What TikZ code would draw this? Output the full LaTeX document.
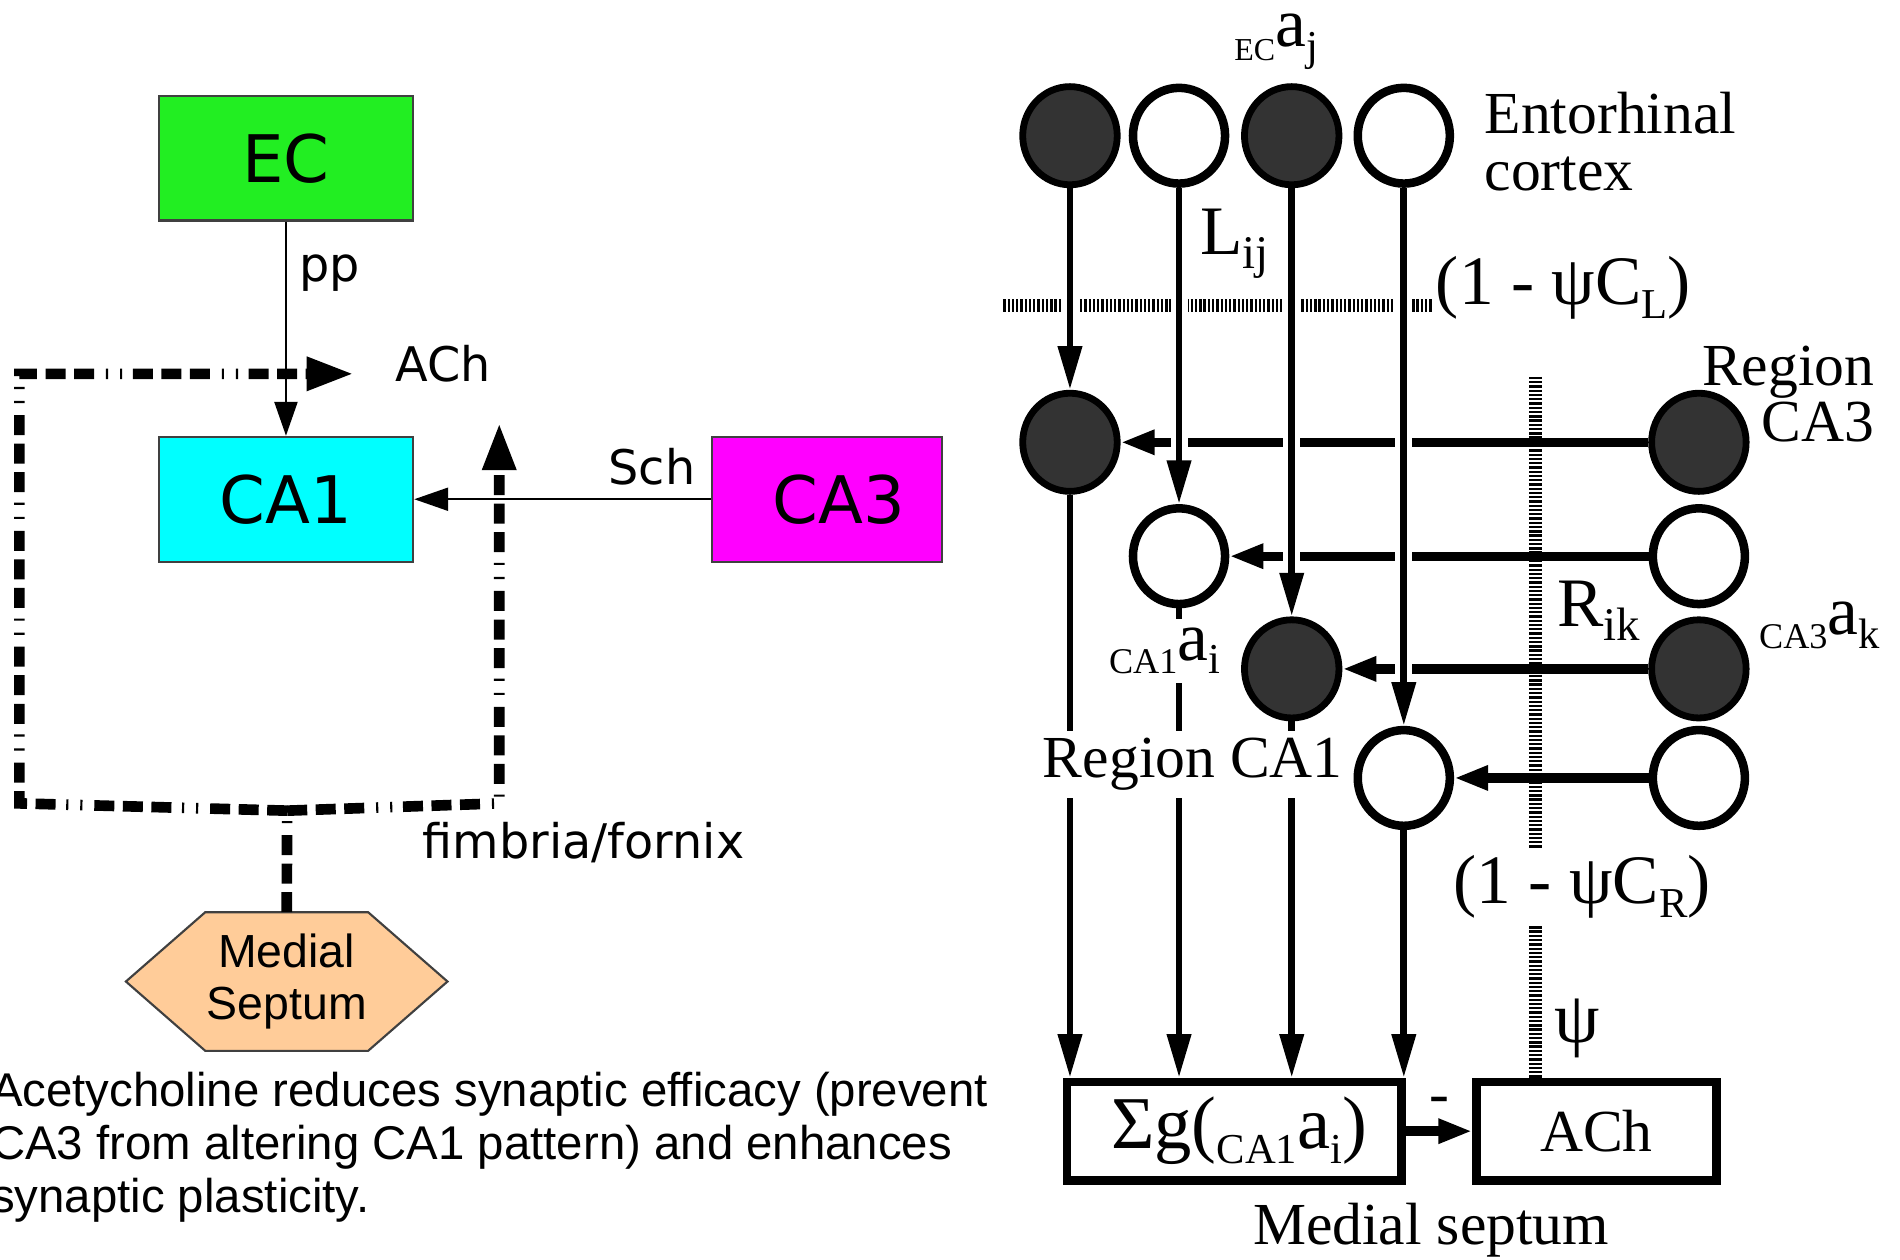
\documentclass[tikz,border=0pt]{standalone}
\usepackage{fontspec}
\setmainfont{Liberation Serif}
\newfontfamily\dvsans{DejaVu Sans}
\newfontfamily\lsans{Liberation Sans}
\usetikzlibrary{shapes.geometric,calc,arrows.meta,positioning,backgrounds}

\definecolor{ecgreen}{RGB}{34,238,34}
\definecolor{ca1cyan}{RGB}{0,255,255}
\definecolor{ca3magenta}{RGB}{255,0,255}
\definecolor{septpeach}{RGB}{255,204,153}
\newcommand{\lowtxt}[2][8pt]{\raisebox{-0.2em}{\fontsize{#1}{#1}\selectfont #2}}

\begin{document}
\begin{tikzpicture}[x=1cm,y=-1cm,
    area/.style={draw=black!75, line width=0.5pt, minimum width=2.1cm, minimum height=1.03cm, inner sep=0pt, font=\dvsans\fontsize{15.4pt}{18pt}\selectfont},
    lbl/.style={inner sep=0pt, font=\dvsans\fontsize{11.2pt}{13pt}\selectfont},
    plain arrow/.style={line width=0.5pt, -{Triangle[length=2.8mm,width=1.9mm]}},
    fibre/.style={line width=2.5pt, dash pattern={on 4.7pt off 2pt on 4.7pt off 2pt on 4.7pt off 2.8pt on 0.5pt off 2.8pt on 0.5pt off 2.5pt}},
    fibre tip/.style={-{Triangle[length=3.9mm,width=2.6mm]}},
    fired/.style={ellipse, draw, line width=1.6pt, fill=black!80, minimum width=0.78cm, minimum height=0.81cm, inner sep=0pt},
    silent/.style={ellipse, draw, line width=2pt, fill=white, minimum width=0.76cm, minimum height=0.79cm, inner sep=0pt},
    axon/.style={line width=1.6pt, -{Triangle[length=3.6mm,width=1.9mm]}},
    halo/.style={white, line width=4pt},
    synapse/.style={line width=2.2pt, -{Triangle[length=2.8mm,width=1.9mm]}},
    gate/.style={line width=3pt, dash pattern={on 0.55pt off 0.45pt}},
    word/.style={inner sep=0pt, font=\fontsize{14pt}{13.3pt}\selectfont},
    sym/.style={inner sep=0pt, font=\fontsize{16.3pt}{18pt}\selectfont},
    septbox/.style={draw, line width=2pt, minimum height=0.81cm, inner sep=0pt}
  ]
  \useasboundingbox (0,0) rectangle (15.68,10.39);

  % --- left: block scheme ---
  \node[area, fill=ecgreen] (ec) at (2.36,1.305) {EC};
  \node[area, fill=ca1cyan] (ca1) at (2.36,4.12) {CA1};
  \node[area, fill=ca3magenta, minimum width=1.9cm] (ca3) at (6.825,4.12) {\hspace*{0.2cm}CA3};
  \node[lbl] (pp) at (2.72,2.25) {pp};
  \node[lbl] (achin) at (3.66,3.00) {ACh};
  \node[lbl] (sch) at (5.38,3.855) {Sch};
  \node[lbl] (fim) at (4.815,6.95) {fimbria/fornix};
  \node[lbl, font=\lsans\fontsize{10.9pt}{12.3pt}\selectfont, align=center, minimum width=2.64cm, minimum height=1.13cm] (ms) at (2.366,8.10) {Medial\\Septum};
  \node[lbl, font=\lsans\fontsize{11.12pt}{12.5pt}\selectfont, align=left, anchor=north west] (note) at (-0.08,8.838) {Acetycholine reduces synaptic efficacy (prevent\\CA3 from altering CA1 pattern) and enhances\\synaptic plasticity.};

  \begin{scope}[on background layer]
    \draw[draw=black!75, line width=0.5pt, fill=septpeach] (ms.west) -- ([xshift=0.655cm]ms.north west) -- ([xshift=-0.655cm]ms.north east) -- (ms.east) -- ([xshift=-0.655cm]ms.south east) -- ([xshift=0.655cm]ms.south west) -- cycle;
  \end{scope}

  \draw[plain arrow] (ec) -- (ca1);
  \draw[plain arrow] (ca3) -- (ca1);

  % cholinergic fibres
  \coordinate (fj) at (2.37,6.69);
  \coordinate (fl) at (0.16,6.63);
  \coordinate (fr) at (4.12,6.63);
  \coordinate (tipL) at (2.92,3.085);
  \coordinate (tipR) at (4.12,3.49);
  \draw[fibre] (ms.north) -- (fj);
  \draw[fibre, fibre tip] (fj) -- (fl) -- (fl |- tipL) -- (tipL);
  \draw[fibre, fibre tip] (fj) -- (fr) -- (tipR);

  % --- right: network ---
  \node[fired] (e1) at (8.83,1.12) {};
  \node[silent] (e2) at (9.73,1.12) {};
  \node[fired] (e3) at (10.66,1.12) {};
  \node[silent] (e4) at (11.585,1.12) {};
  \node[fired] (c1) at (8.83,3.65) {};
  \node[silent] (c2) at (9.73,4.59) {};
  \node[fired] (c3) at (10.66,5.52) {};
  \node[silent] (c4) at (11.585,6.42) {};
  \node[fired] (r1) at (14.02,3.65) {};
  \node[silent] (r2) at (14.02,4.59) {};
  \node[fired] (r3) at (14.02,5.52) {};
  \node[silent] (r4) at (14.02,6.42) {};

  \node[septbox, minimum width=2.76cm, font=\fontsize{17.5pt}{20pt}\selectfont] (sg) at (10.185,9.335) {\hspace*{0.08cm}Σg(\lowtxt[10pt]{CA1}a\lowtxt[10pt]{i})};
  \node[septbox, minimum width=1.98cm, font=\fontsize{14pt}{16pt}\selectfont] (ach) at (13.175,9.335) {ACh};

  \node[sym, anchor=base west] (ecaj) at (10.18,0.385) {\lowtxt[7.5pt]{EC}a\lowtxt[10pt]{j}};
  \node[word, align=left, anchor=north west] (ent) at (12.245,0.753) {Entorhinal\\cortex};
  \node[sym, anchor=base west] (lij) at (9.90,2.104) {L\lowtxt[11pt]{ij}};
  \node[sym, anchor=base west] (cl) at (11.843,2.517) {(1 - ψC\lowtxt[10pt]{L})};
  \node[word, align=right, anchor=north east] (rca3) at (15.475,2.845) {Region\\CA3};
  \node[sym, anchor=base west] (rik) at (12.847,5.172) {R\lowtxt[11pt]{ik}};
  \node[sym, anchor=base west] (cak) at (14.51,5.24) {\lowtxt[8.5pt]{CA3}a\lowtxt[10pt]{k}};
  \node[sym, anchor=base west, fill=white, inner sep=0.7mm] (cai) at (9.075,5.447) {\lowtxt[8.5pt]{CA1}a\lowtxt[10pt]{i}};
  \node[word, anchor=base west, fill=white, inner sep=0.6mm] (rca1) at (8.54,6.42) {Region CA1};
  \node[sym, anchor=base west, fill=white, inner sep=0.6mm] (cr) at (11.93,7.455) {(1 - ψC\lowtxt[10pt]{R})};
  \node[word, font=\fontsize{17pt}{18pt}\selectfont, anchor=base west] (psi) at (12.825,8.60) {ψ};
  \node[word] (minus) at (11.88,9.12) {-};
  \node[word] (msr) at (11.81,10.15) {Medial septum};

  \begin{scope}[on background layer]
    \foreach \n in {1,...,4}
      \draw[synapse] (r\n) -- (c\n);
    \coordinate (gl) at (8.28,2.52);
    \coordinate (gr) at (11.82,2.52);
    \coordinate (gt) at (12.67,3.11);
    \draw[gate] (gl) -- (gr);
    \draw[gate] (gt) -- (gt |- ach.north);
    \foreach \n in {1,...,4} {
      \draw[halo] (e\n) -- (c\n);
      \draw[axon] (e\n) -- (c\n);
      \draw[axon] (c\n) -- (c\n |- sg.north);
    }
    \draw[synapse] (sg) -- (ach);
  \end{scope}
\end{tikzpicture}
\end{document}
